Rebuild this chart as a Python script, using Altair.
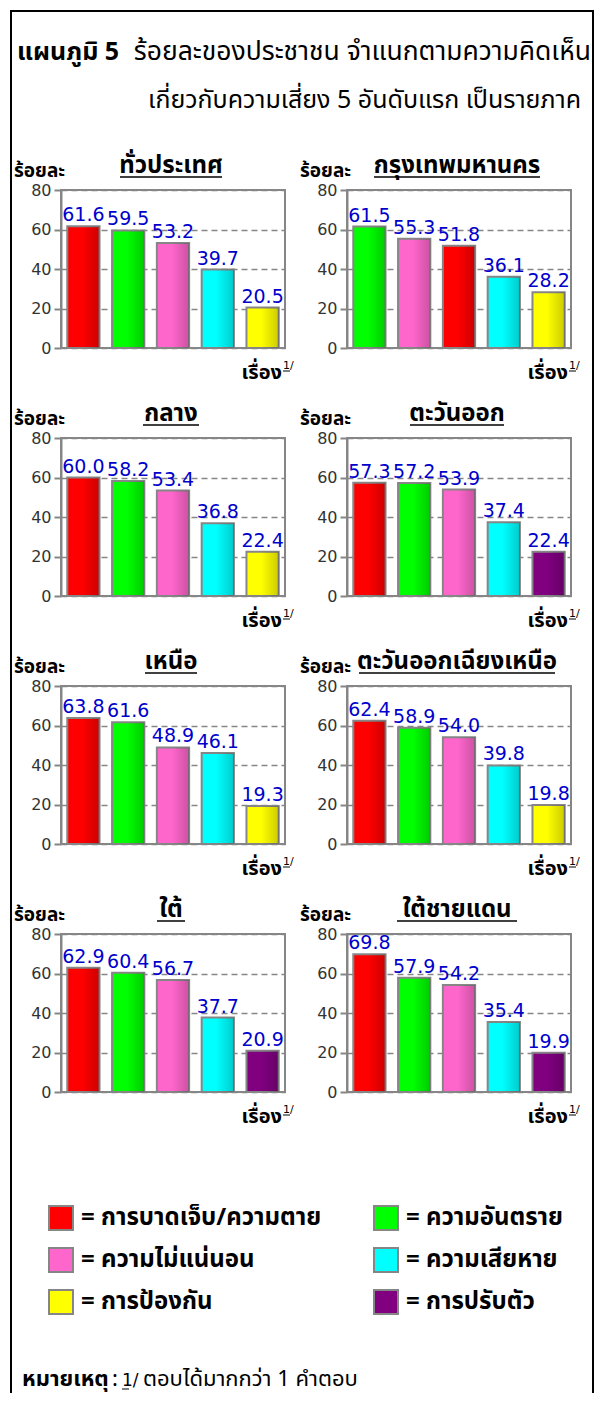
import altair as alt
import pandas as pd

CATEGORIES = ["การบาดเจ็บ/ความตาย", "ความอันตราย", "ความไม่แน่นอน",
              "ความเสียหาย", "การป้องกัน", "การปรับตัว"]
COLORS = ["#FF0000", "#00FF00", "#FF66CC", "#00FFFF", "#FFFF00", "#800080"]

REGIONS = ["ทั่วประเทศ", "กรุงเทพมหานคร", "กลาง", "ตะวันออก",
           "เหนือ", "ตะวันออกเฉียงเหนือ", "ใต้", "ใต้ชายแดน"]
# category index of each of the 5 bars, left to right
REGION_CATS = [
    [0, 1, 2, 3, 4],
    [1, 2, 0, 3, 4],
    [0, 1, 2, 3, 4],
    [0, 1, 2, 3, 5],
    [0, 1, 2, 3, 4],
    [0, 1, 2, 3, 4],
    [0, 1, 2, 3, 5],
    [0, 1, 2, 3, 5],
]
REGION_VALUES = [
    [61.6, 59.5, 53.2, 39.7, 20.5],
    [61.5, 55.3, 51.8, 36.1, 28.2],
    [60.0, 58.2, 53.4, 36.8, 22.4],
    [57.3, 57.2, 53.9, 37.4, 22.4],
    [63.8, 61.6, 48.9, 46.1, 19.3],
    [62.4, 58.9, 54.0, 39.8, 19.8],
    [62.9, 60.4, 56.7, 37.7, 20.9],
    [69.8, 57.9, 54.2, 35.4, 19.9],
]
Y_TICKS = [0, 20, 40, 60, 80]

TITLE_LINE1_BOLD = "แผนภูมิ 5"
TITLE_LINE1 = "ร้อยละของประชาชน จำแนกตามความคิดเห็น"
TITLE_LINE2 = "เกี่ยวกับความเสี่ยง 5 อันดับแรก  เป็นรายภาค"
Y_LABEL = "ร้อยละ"
X_LABEL = "เรื่อง"
X_SUP = "1/"
NOTE_BOLD = "หมายเหตุ"
NOTE_REST = "ตอบได้มากกว่า 1 คำตอบ"

# styling / layout
W, H = 224, 158
THAI = "Tahoma, 'Noto Sans Thai', 'Noto Sans Thai UI', Loma, Garuda, sans-serif"
NUM = "DejaVu Sans"
GREY = "#868686"
UNDERLINE_HALF = [51, 83, 28, 47, 26, 98, 14, 60]

color_scale = alt.Scale(domain=CATEGORIES, range=COLORS)
one = pd.DataFrame({"k": [0]})


def txt(s, x, y, size, weight="normal", align="left", font=THAI, baseline="alphabetic"):
    return alt.Chart(pd.DataFrame({"t": [s]})).mark_text(
        font=font, fontSize=size, fontWeight=weight, align=align,
        baseline=baseline, color="black").encode(
        text="t:N", x=alt.value(x), y=alt.value(y))


def rule(x1, x2, y1, y2, width=1.5):
    return alt.Chart(one).mark_rule(color="black", strokeWidth=width).encode(
        x=alt.value(x1), x2=alt.value(x2), y=alt.value(y1), y2=alt.value(y2))


def panel(i):
    df = pd.DataFrame({
        "rank": list(range(1, 6)),
        "cat": [CATEGORIES[c] for c in REGION_CATS[i]],
        "value": REGION_VALUES[i],
    })
    base = alt.Chart(df).encode(
        x=alt.X("rank:O", axis=None,
                scale=alt.Scale(paddingInner=0.28, paddingOuter=0.14)),
        y=alt.Y("value:Q", scale=alt.Scale(domain=[0, 80], nice=False),
                axis=alt.Axis(values=Y_TICKS, title=None, grid=True,
                              gridDash=[6, 4], gridColor=GREY, gridWidth=1.5,
                              domainColor=GREY, domainWidth=2,
                              tickColor=GREY, tickSize=7, tickWidth=2,
                              labelFont=NUM, labelFontSize=16,
                              labelColor="#333333", labelPadding=3)),
    )
    bars = base.mark_bar(stroke=GREY, strokeWidth=2).encode(
        fill=alt.Fill("cat:N", scale=color_scale, legend=None))
    shade = base.mark_bar(
        color=alt.Gradient(gradient="linear", x1=0, x2=1, y1=0, y2=0,
                           stops=[alt.GradientStop(color="rgba(0,0,0,0)", offset=0),
                                  alt.GradientStop(color="rgba(0,0,0,0)", offset=0.45),
                                  alt.GradientStop(color="rgba(0,0,0,0.2)", offset=1)]))
    labels = base.mark_text(dy=-5, baseline="alphabetic", font=NUM,
                            fontSize=19, color="#0000CC").encode(
        text=alt.Text("value:Q", format=".1f"))

    layers = [bars, shade, labels,
              txt(REGIONS[i], 110, -17, 24, "bold", "center"),
              rule(110 - UNDERLINE_HALF[i], 110 + UNDERLINE_HALF[i], -13, -13),
              txt(Y_LABEL, -47, -13, 19, "bold"),
              txt(X_LABEL, 221, 189, 20, "bold", "right"),
              txt(X_SUP, 222, 179, 11, font=NUM),
              rule(222, 229, 181, 181, 1)]

    if i == 0:
        # outer frame (open at the bottom, as in the page crop) and main title
        layers += [
            rule(-50, -50, -180, 1203, 2),
            rule(532, 532, -180, 1203, 2),
            rule(-51, 533, -179, -179, 2),
            txt(TITLE_LINE1_BOLD, -44, -130, 25, "bold"),
            txt(TITLE_LINE1, 530, -130, 26.5, align="right"),
            txt(TITLE_LINE2, 520, -82, 25, align="right"),
        ]
    if i == 6:
        legend_src = alt.Chart(pd.DataFrame({"cat": CATEGORIES})).mark_square(
            opacity=0, filled=True).encode(
            x=alt.value(0), y=alt.value(0),
            fill=alt.Fill("cat:N", scale=color_scale, legend=alt.Legend(
                orient="none", legendX=-13, legendY=271, columns=2,
                direction="horizontal", title=None,
                symbolType="square", symbolSize=576, symbolStrokeColor=GREY,
                symbolStrokeWidth=2, symbolOpacity=1, padding=0,
                labelFont=THAI, labelFontSize=24, labelFontWeight="bold",
                labelColor="black", labelExpr="'= ' + datum.label", labelLimit=500,
                labelOffset=7, rowPadding=10, columnPadding=48)))
        layers += [
            legend_src,
            txt(NOTE_BOLD, -39, 452, 22, "bold"),
            txt(":", 51, 452, 22),
            txt(X_SUP, 61, 452, 17, font=NUM),
            rule(61, 68, 455, 455, 1),
            txt(NOTE_REST, 82, 452, 22),
        ]
    ch = alt.layer(*layers).properties(width=W, height=H)
    if i == 6:
        ch = ch.resolve_scale(fill="independent")
    return ch


chart = alt.concat(*[panel(i) for i in range(8)], columns=2,
                   spacing={"row": 90, "column": 62}, bounds="flush").properties(
    padding=0, background="white"
).resolve_scale(fill="independent").configure_view(
    stroke=GREY, strokeWidth=2
)

chart.save("out.html", embed_options={"renderer": "svg", "actions": False})
